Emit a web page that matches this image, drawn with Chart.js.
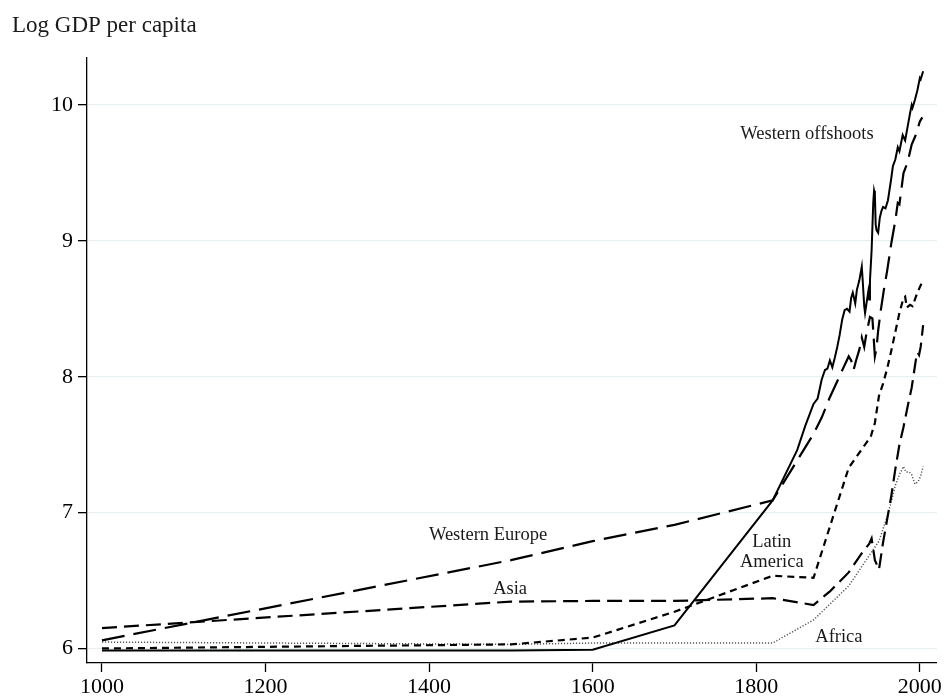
<!DOCTYPE html>
<html>
<head>
<meta charset="utf-8">
<script src="https://cdn.jsdelivr.net/npm/chart.js@4.4.0/dist/chart.umd.min.js"></script>
<style>
  body { margin: 0; background: #fff; }
  #gdp-chart { display: block; }
</style>
</head>
<body>
<canvas id="gdp-chart" width="944" height="698"></canvas>
<script>
// tick labels
const xTicks = [1000, 1200, 1400, 1600, 1800, 2000];
const yTicks = [6, 7, 8, 9, 10];

// Western offshoots (solid)
const woYears = [1000,1500,1600,1700,1820,1850,1860,1870,1875,1880,1884,1887,1890,1893,1896,1899,1902,1905,1908,1911,1914,1916,1918,1921,1923,1926,1929,1930,1932,1933,1935,1937,1938,1939,1941,1943,1944,1945,1946,1947,1949,1951,1953,1955,1958,1961,1965,1967,1970,1973,1975,1979,1982,1985,1988,1990,1991,1994,1997,2000,2001,2004];
const woVals  = [5.985,5.985,5.99,6.17,7.09,7.46,7.64,7.80,7.84,7.98,8.05,8.06,8.12,8.07,8.14,8.22,8.31,8.42,8.49,8.50,8.48,8.58,8.62,8.54,8.64,8.71,8.81,8.72,8.52,8.47,8.55,8.63,8.57,8.71,8.93,9.28,9.37,9.34,9.12,9.08,9.06,9.17,9.22,9.25,9.24,9.30,9.46,9.55,9.60,9.69,9.66,9.78,9.74,9.84,9.94,10.0,9.98,10.04,10.11,10.20,10.19,10.25];

// Western Europe (long dash)
const weYears = [1000,1500,1600,1700,1820,1870,1880,1890,1900,1906,1913,1916,1919,1922,1926,1929,1932,1935,1939,1942,1945,1947,1949,1952,1956,1960,1965,1970,1973,1975,1980,1985,1990,1995,2000,2003];
const weVals  = [6.06,6.65,6.79,6.91,7.09,7.58,7.70,7.85,7.98,8.06,8.15,8.12,8.05,8.12,8.20,8.29,8.22,8.33,8.44,8.43,8.15,8.21,8.34,8.48,8.64,8.78,8.98,9.15,9.28,9.27,9.50,9.58,9.71,9.78,9.88,9.91];

// Asia (medium dash)
const asYears = [1000,1500,1600,1700,1820,1870,1890,1913,1930,1938,1941,1945,1950,1955,1960,1965,1970,1975,1980,1985,1990,1995,1997,1999,2001,2004];
const asVals  = [6.15,6.345,6.35,6.35,6.37,6.32,6.42,6.56,6.71,6.77,6.81,6.65,6.58,6.78,6.95,7.12,7.32,7.50,7.63,7.78,7.92,8.12,8.18,8.16,8.22,8.38];

// Latin America (short dash)
const laYears = [1000,1500,1600,1700,1820,1870,1913,1940,1945,1950,1955,1960,1965,1970,1975,1980,1982,1984,1988,1991,1994,1997,2000,2003];
const laVals  = [6.0,6.03,6.08,6.27,6.535,6.52,7.33,7.56,7.66,7.86,7.95,8.06,8.19,8.33,8.47,8.58,8.59,8.51,8.53,8.52,8.57,8.62,8.66,8.70];

// Africa (dotted)
const afYears = [1000,1500,1600,1700,1820,1870,1913,1950,1955,1960,1965,1970,1975,1980,1983,1987,1990,1994,1998,2001,2004];
const afVals  = [6.047,6.03,6.04,6.04,6.04,6.21,6.46,6.79,6.88,6.97,7.08,7.20,7.28,7.34,7.30,7.30,7.28,7.21,7.23,7.27,7.34];

// region labels (data coordinates, text baseline)
const labelTexts  = ['Western offshoots', 'Western Europe', 'Asia', 'Latin', 'America', 'Africa'];
const labelYears  = [1862, 1472, 1499, 1819, 1819, 1901];
const labelValues = [9.75, 6.80, 6.40, 6.75, 6.60, 6.05];

function toPoints(years, vals) {
    return years.map((yr, i) => ({ x: yr, y: vals[i] }));
}

const serif = '"Liberation Serif", "Times New Roman", serif';

const regionLabels = {
    id: 'regionLabels',
    afterDatasetsDraw(chart) {
        const ctx = chart.ctx;
        const xs = chart.scales.x;
        const ys = chart.scales.y;
        ctx.save();
        ctx.fillStyle = '#1a1a1a';
        ctx.font = '18.5px ' + serif;
        ctx.textAlign = 'center';
        ctx.textBaseline = 'alphabetic';
        labelTexts.forEach((t, i) => {
            ctx.fillText(t, xs.getPixelForValue(labelYears[i]), ys.getPixelForValue(labelValues[i]));
        });
        ctx.font = '23px ' + serif;
        ctx.textAlign = 'left';
        ctx.fillText('Log GDP per capita', 12, 32);
        ctx.restore();
    }
};

function lineSet(label, years, vals, dash, color, width) {
    return {
        label: label,
        data: toPoints(years, vals),
        borderColor: color,
        borderWidth: width,
        borderDash: dash,
        pointRadius: 0,
        tension: 0,
        fill: false
    };
}

const canvasElement = document.getElementById('gdp-chart').getContext('2d');

const gdpChart = new Chart(canvasElement, {
    type: 'line',
    data: {
        datasets: [
            lineSet('Western offshoots', woYears, woVals, [], '#000', 2),
            lineSet('Western Europe', weYears, weVals, [23, 9], '#000', 2.2),
            lineSet('Asia', asYears, asVals, [15, 7], '#000', 2.2),
            lineSet('Latin America', laYears, laVals, [7, 5], '#000', 2.2),
            lineSet('Africa', afYears, afVals, [1.2, 1.8], '#555', 1.5)
        ]
    },
    options: {
        responsive: false,
        animation: false,
        devicePixelRatio: 1,
        layout: { padding: { top: 58, right: 7, bottom: 0, left: 0 } },
        plugins: {
            legend: { display: false },
            tooltip: { enabled: false }
        },
        scales: {
            x: {
                type: 'linear',
                min: 981.7,
                max: 2020.8,
                afterBuildTicks: s => { s.ticks = xTicks.map(v => ({ value: v })); },
                afterFit: s => { s.height = 35; },
                grid: { drawOnChartArea: false, tickLength: 9, tickColor: '#000', tickWidth: 1.3 },
                border: { color: '#000', width: 1.3 },
                ticks: {
                    color: '#000',
                    font: { family: serif, size: 22 },
                    padding: 2,
                    maxRotation: 0,
                    autoSkip: false,
                    callback: v => String(v)
                }
            },
            y: {
                type: 'linear',
                min: 5.893,
                max: 10.347,
                afterBuildTicks: s => { s.ticks = yTicks.map(v => ({ value: v })); },
                afterFit: s => { s.width = 87; },
                grid: { color: '#e8eff1', lineWidth: 1.3, tickColor: '#000', tickLength: 9, tickWidth: 1.3 },
                border: { color: '#000', width: 1.3 },
                ticks: {
                    color: '#000',
                    font: { family: serif, size: 22 },
                    padding: 5,
                    callback: v => String(v)
                }
            }
        }
    },
    plugins: [regionLabels]
});
</script>
</body>
</html>
